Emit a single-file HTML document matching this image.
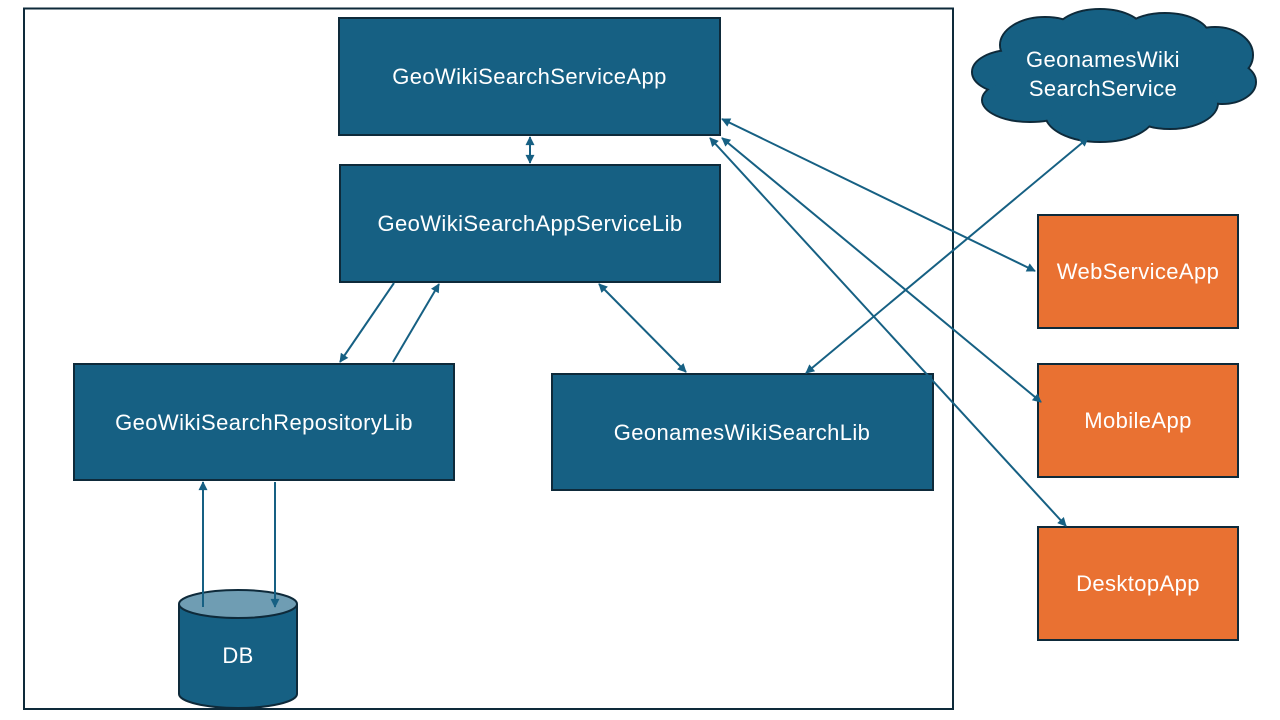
<!DOCTYPE html>
<html><head><meta charset="utf-8"><style>
html,body{margin:0;padding:0;background:#fff;width:1280px;height:720px;overflow:hidden}
text{font-family:"Liberation Sans",sans-serif;font-size:22px;letter-spacing:0.4px;fill:#fff}
</style></head><body>
<svg width="1280" height="720" viewBox="0 0 1280 720" xmlns="http://www.w3.org/2000/svg">
<defs>
<marker id="a" viewBox="0 0 10 10" refX="9" refY="5" markerWidth="10" markerHeight="9" orient="auto-start-reverse" markerUnits="userSpaceOnUse">
<path d="M0,0 L10,5 L0,10 z" fill="#166083"/></marker>
</defs>
<rect x="24" y="8.5" width="929" height="700.5" fill="none" stroke="#0e2a3a" stroke-width="2"/>
<g stroke="#0e2a3a" stroke-width="2" fill="#166083">
<rect x="339" y="18" width="381" height="117"/>
<rect x="340" y="165" width="380" height="117"/>
<rect x="74" y="364" width="380" height="116"/>
<rect x="552" y="374" width="381" height="116"/>
</g>
<g stroke="#0e2a3a" stroke-width="2" fill="#e97132">
<rect x="1038" y="215" width="200" height="113"/>
<rect x="1038" y="364" width="200" height="113"/>
<rect x="1038" y="527" width="200" height="113"/>
</g>
<text x="529.5" y="84" text-anchor="middle">GeoWikiSearchServiceApp</text>
<text x="530" y="231" text-anchor="middle">GeoWikiSearchAppServiceLib</text>
<text x="264" y="430" text-anchor="middle">GeoWikiSearchRepositoryLib</text>
<text x="742" y="440" text-anchor="middle">GeonamesWikiSearchLib</text>
<text x="1138" y="279" text-anchor="middle">WebServiceApp</text>
<text x="1138" y="428" text-anchor="middle">MobileApp</text>
<text x="1138" y="591" text-anchor="middle">DesktopApp</text>
<!-- cloud -->
<g fill="#166083" stroke="#0e2a3a" stroke-width="2">
<ellipse cx="1012" cy="72" rx="40" ry="22"/>
<ellipse cx="1045" cy="45" rx="45" ry="28"/>
<ellipse cx="1100" cy="33" rx="45" ry="24"/>
<ellipse cx="1165" cy="37" rx="45" ry="24"/>
<ellipse cx="1215" cy="55" rx="38" ry="28"/>
<ellipse cx="1222" cy="82" rx="34" ry="22"/>
<ellipse cx="1170" cy="103" rx="48" ry="26"/>
<ellipse cx="1100" cy="114" rx="55" ry="28"/>
<ellipse cx="1030" cy="100" rx="48" ry="22"/>
</g>
<g fill="#166083">
<ellipse cx="1012" cy="72" rx="39" ry="21"/>
<ellipse cx="1045" cy="45" rx="44" ry="27"/>
<ellipse cx="1100" cy="33" rx="44" ry="23"/>
<ellipse cx="1165" cy="37" rx="44" ry="23"/>
<ellipse cx="1215" cy="55" rx="37" ry="27"/>
<ellipse cx="1222" cy="82" rx="33" ry="21"/>
<ellipse cx="1170" cy="103" rx="47" ry="25"/>
<ellipse cx="1100" cy="114" rx="54" ry="27"/>
<ellipse cx="1030" cy="100" rx="47" ry="21"/>
<rect x="1010" y="45" width="200" height="70"/>
</g>
<text x="1103" y="67" text-anchor="middle">GeonamesWiki</text>
<text x="1103" y="96" text-anchor="middle">SearchService</text>
<!-- DB -->
<path d="M179,604 L179,694 A59,14 0 0 0 297,694 L297,604" fill="#166083" stroke="#0e2a3a" stroke-width="2"/>
<ellipse cx="238" cy="604" rx="59" ry="14" fill="#6f9db3" stroke="#0e2a3a" stroke-width="2"/>
<text x="238" y="663" text-anchor="middle">DB</text>
<!-- connectors -->
<g stroke="#166083" stroke-width="2" fill="none">
<line x1="530" y1="137" x2="530" y2="163" marker-start="url(#a)" marker-end="url(#a)"/>
<line x1="394" y1="283" x2="340" y2="362" marker-end="url(#a)"/>
<line x1="393" y1="362" x2="439" y2="284" marker-end="url(#a)"/>
<line x1="599" y1="284" x2="686" y2="372" marker-start="url(#a)" marker-end="url(#a)"/>
<line x1="722" y1="119" x2="1035" y2="271" marker-start="url(#a)" marker-end="url(#a)"/>
<line x1="722" y1="138" x2="1041" y2="402" marker-start="url(#a)" marker-end="url(#a)"/>
<line x1="710" y1="138" x2="1066" y2="526" marker-start="url(#a)" marker-end="url(#a)"/>
<line x1="806" y1="373" x2="1088" y2="138" marker-start="url(#a)" marker-end="url(#a)"/>
<line x1="203" y1="607" x2="203" y2="482" marker-end="url(#a)"/>
<line x1="275" y1="482" x2="275" y2="607" marker-end="url(#a)"/>
</g>
</svg>
</body></html>
